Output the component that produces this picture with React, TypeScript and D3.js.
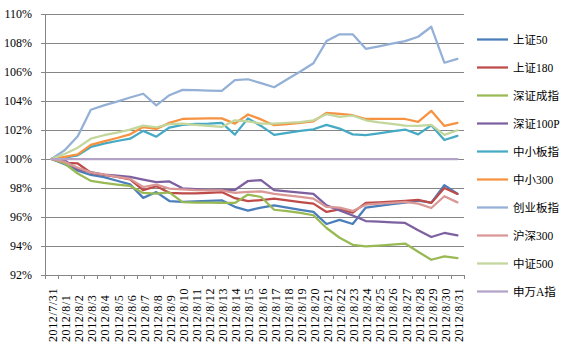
import React from "react";
import * as d3 from "d3";

const dates = [
  "2012/7/31","2012/8/1","2012/8/2","2012/8/3","2012/8/4","2012/8/5","2012/8/6","2012/8/7",
  "2012/8/8","2012/8/9","2012/8/10","2012/8/11","2012/8/12","2012/8/13","2012/8/14","2012/8/15",
  "2012/8/16","2012/8/17","2012/8/18","2012/8/19","2012/8/20","2012/8/21","2012/8/22","2012/8/23",
  "2012/8/24","2012/8/25","2012/8/26","2012/8/27","2012/8/28","2012/8/29","2012/8/30","2012/8/31",
];

const seriesNames = ["上证50","上证180","深证成指","深证100P","中小板指","中小300","创业板指","沪深300","中证500","申万A指"];
const seriesColors = ["#4A7EBB","#BE4B48","#98B954","#7D60A0","#46AAC5","#F69240","#94B0D6","#D99795","#C3D69B","#B3A2C7"];

const sz50 = [100,99.64,99.2,98.9,98.75,98.5,98.25,97.32,97.72,97.1,97.05,97.08,97.12,97.15,96.7,96.44,96.65,96.8,96.65,96.49,96.35,95.52,95.8,95.52,96.65,96.76,96.88,96.99,97.13,96.99,98.2,97.6];
const sz180 = [100,99.73,99.69,99.05,98.9,98.77,98.6,97.85,98.12,97.67,97.63,97.63,97.67,97.72,97.3,97.1,97.17,97.26,97.15,97.03,96.92,96.35,96.53,96.3,96.97,97.01,97.06,97.11,97.18,96.97,98.0,97.59];
const szcz = [100,99.69,99.0,98.49,98.35,98.24,98.14,97.66,97.62,97.7,97.03,96.99,96.99,96.97,96.97,97.55,97.38,96.5,96.4,96.28,96.12,95.24,94.57,94.08,93.97,94.03,94.1,94.17,93.6,93.05,93.28,93.16];
const sz100p = [100,99.92,99.27,99.1,98.93,98.85,98.77,98.58,98.4,98.45,97.98,97.93,97.86,97.88,97.86,98.48,98.55,97.86,97.77,97.68,97.6,96.8,96.46,96.1,95.72,95.68,95.63,95.59,95.08,94.62,94.9,94.73];
const zxb = [100,100.09,100.25,100.83,101.06,101.24,101.4,101.94,101.54,102.17,102.35,102.42,102.44,102.49,101.68,102.8,102.28,101.66,101.8,101.94,102.05,102.35,102.1,101.7,101.64,101.77,101.91,102.03,101.7,102.33,101.31,101.59];
const zx300 = [100,100.14,100.32,100.97,101.22,101.45,101.7,102.2,102.07,102.49,102.76,102.79,102.8,102.8,102.44,103.07,102.73,102.33,102.4,102.49,102.6,103.18,103.11,103.02,102.76,102.76,102.76,102.76,102.56,103.32,102.28,102.49];
const cyb = [100,100.6,101.57,103.4,103.7,103.96,104.24,104.5,103.7,104.4,104.77,104.75,104.72,104.7,105.44,105.5,105.23,104.95,105.5,106.03,106.6,108.13,108.6,108.6,107.6,107.77,107.95,108.13,108.43,109.12,106.64,106.9];
const hs300 = [100,99.8,99.4,99.08,98.93,98.77,98.63,98.07,98.23,97.96,97.91,97.86,97.84,97.84,97.66,97.73,97.77,97.6,97.49,97.38,97.27,96.69,96.65,96.42,96.85,96.92,96.97,97.04,96.92,96.62,97.43,97.01];
const zz500 = [100,100.35,100.78,101.4,101.64,101.82,102.03,102.3,102.19,102.4,102.44,102.35,102.28,102.21,102.67,102.6,102.44,102.44,102.5,102.55,102.67,103.09,102.9,103.0,102.67,102.53,102.42,102.3,102.28,102.35,101.66,101.98];
const swa = [100,100,100,100,100,100,100,100,100,100,100,100,100,100,100,100,100,100,100,100,100,100,100,100,100,100,100,100,100,100,100,100];

const allSeries = [sz50, sz180, szcz, sz100p, zxb, zx300, cyb, hs300, zz500, swa];
const yTicks = [92, 94, 96, 98, 100, 102, 104, 106, 108, 110];

export default function App() {
  const W = 570, H = 353;
  const left = 45, right = 464, top = 14, bottom = 275;
  const x = d3.scaleBand<string>().domain(dates).range([left, right]).padding(0);
  const y = d3.scaleLinear().domain([92, 110]).range([bottom, top]);
  const line = d3.line<number>()
    .x((_, i) => (x(dates[i]) as number) + x.bandwidth() / 2)
    .y((d) => y(d));
  const serif = "'Liberation Serif', 'Times New Roman', 'Noto Sans CJK SC', serif";
  const legendY0 = 39.5, legendStep = 28;

  return (
    <svg width={W} height={H} style={{ position: "absolute", left: 0, top: 0, background: "#fff" }}>
      {yTicks.map((t) => (
        <g key={t}>
          <line x1={left - 4} x2={right} y1={Math.round(y(t)) + 0.5} y2={Math.round(y(t)) + 0.5} stroke="#868686" strokeWidth={1} />
          <text x={32} y={y(t)} textAnchor="end" dominantBaseline="central" fontFamily={serif} fontSize={12} fill="#000">{t}%</text>
        </g>
      ))}
      <line x1={left + 0.5} x2={left + 0.5} y1={top} y2={bottom} stroke="#868686" />
      {dates.concat(["_end"]).map((d, i) => {
        const xx = Math.round(left + i * x.bandwidth()) + 0.5;
        return <line key={"t" + i} x1={xx} x2={xx} y1={bottom} y2={bottom + 4} stroke="#868686" />;
      })}
      {dates.map((d) => {
        const cx = (x(d) as number) + x.bandwidth() / 2 + 1.5;
        return (
          <text key={d} transform={`translate(${cx},342) rotate(-90)`} textAnchor="start" dominantBaseline="central"
            fontFamily={serif} fontSize={12} letterSpacing={0.6} fill="#000">{d}</text>
        );
      })}
      {allSeries.map((s, k) => (
        <path key={seriesNames[k]} d={line(s) || ""} fill="none" stroke={seriesColors[k]} strokeWidth={2.25} strokeLinejoin="round" strokeLinecap="round" />
      ))}
      {seriesNames.map((n, k) => (
        <g key={"lg" + n}>
          <line x1={477} x2={508} y1={legendY0 + k * legendStep} y2={legendY0 + k * legendStep} stroke={seriesColors[k]} strokeWidth={2.25} />
          <text x={513} y={legendY0 + k * legendStep} dominantBaseline="central" fontFamily={serif} fontSize={11.5} fill="#000">{n}</text>
        </g>
      ))}
    </svg>
  );
}
